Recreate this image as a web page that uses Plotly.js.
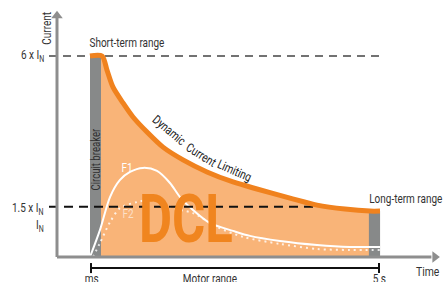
<!DOCTYPE html>
<html><head><meta charset="utf-8">
<script src="https://cdn.plot.ly/plotly-3.0.1.min.js"></script>
<style>html,body{margin:0;padding:0;background:#fff}#chart{width:443px;height:282px}</style>
</head><body><div id="chart"></div>
<script>
// Dynamic Current Limiting envelope (schematic time units, multiples of I_N)
const dclTime = [8.55, 11.66, 12.95, 14.51, 17.10, 19.69, 23.32, 27.46, 32.64, 38.86, 45.60, 51.81, 60.36, 67.36, 74.61, 81.09, 83.68];
const dclCurrent = [6.0, 6.0, 5.58, 5.07, 4.60, 4.18, 3.73, 3.28, 2.90, 2.54, 2.24, 2.03, 1.76, 1.55, 1.43, 1.37, 1.37];
// Example load current F1 (solid)
const f1Time = [8.55, 11.14, 13.73, 16.32, 18.91, 22.28, 25.91, 29.27, 31.87, 35.23, 39.64, 45.60, 50.0, 57.77, 67.36, 75.91, 83.68];
const f1Current = [0, 0.81, 1.79, 2.30, 2.54, 2.66, 2.57, 2.21, 1.79, 1.40, 1.01, 0.78, 0.63, 0.48, 0.36, 0.30, 0.30];
// Example load current F2 (dotted)
const f2Time = [9.33, 11.14, 13.73, 16.32, 20.73, 24.09, 27.46, 30.05, 35.23, 41.45, 48.19, 57.77, 67.36, 75.91, 83.68];
const f2Current = [0, 0.42, 1.04, 1.46, 1.64, 1.70, 1.61, 1.46, 1.31, 0.90, 0.60, 0.39, 0.24, 0.21, 0.21];
// Ranges
const breakerTime = [8.55, 11.4];
const breakerCurrent = 6.0;
const longTermTime = [80.8, 83.7];
const longTermCurrent = 1.37;
// Current levels
const levelValues = [6, 1.5, 1];
const levelLabels = ['6 x I<sub>N</sub>', '1.5 x I<sub>N</sub>', 'I<sub>N</sub>'];
const levelLineStart = -2.07;
const levelLineEnd = [84.2, 68.1];
// Time marks
const timeTicks = [8.81, 83.42];
const timeLabels = ['ms', '5 s'];
const motorLabel = 'Motor range';

const FONT = "Roboto, 'Liberation Sans', sans-serif";
const ORANGE = '#f0821e', FILL = '#f9b478', GRAY = '#878989', AXIS = '#8e8e8e', TXT = '#333';

function rect(x, top, color) {
  return {x: [x[0], x[0], x[1], x[1], x[0]], y: [0, top, top, 0, 0], mode: 'lines', fill: 'toself',
          fillcolor: color, line: {width: 0, color: color}};
}

const traces = [
  {x: dclTime, y: dclCurrent, mode: 'lines', fill: 'tozeroy', fillcolor: FILL,
   line: {width: 0, shape: 'spline', smoothing: 0.8, color: FILL}},
  rect(breakerTime, breakerCurrent, GRAY),
  rect(longTermTime, longTermCurrent, GRAY),
  {x: [levelLineStart, levelLineEnd[0]], y: [levelValues[0], levelValues[0]], mode: 'lines',
   line: {color: '#444', width: 1.3, dash: '8px,6px'}},
  {x: f2Time, y: f2Current, mode: 'lines', line: {color: 'rgba(255,255,255,0.8)', width: 2, dash: '2px,4px', shape: 'spline', smoothing: 0.8}},
  {x: f1Time, y: f1Current, mode: 'lines', line: {color: '#fff', width: 2, shape: 'spline', smoothing: 0.8}},
  {x: [levelLineStart, levelLineEnd[1]], y: [levelValues[1], levelValues[1]], mode: 'lines',
   line: {color: '#111', width: 2, dash: '9px,6px'}},
  {x: dclTime, y: dclCurrent, mode: 'lines', line: {color: ORANGE, width: 5, shape: 'spline', smoothing: 0.8}},
  // axes
  {x: [0, 0], y: [0, 7.15], mode: 'lines', line: {color: AXIS, width: 3}},
  {x: [0, 97], y: [0, 0], mode: 'lines', line: {color: AXIS, width: 3}},
  {x: [0], y: [7.2], mode: 'markers', marker: {symbol: 'triangle-up', size: 10, color: AXIS}},
  {x: [97.9], y: [0], mode: 'markers', marker: {symbol: 'triangle-right', size: 10, color: AXIS}},
  // motor range bracket
  {x: timeTicks, y: [-0.328, -0.328], mode: 'lines', line: {color: '#111', width: 2}},
  {x: [timeTicks[0], timeTicks[0]], y: [-0.18, -0.48], mode: 'lines', line: {color: '#111', width: 2}},
  {x: [timeTicks[1], timeTicks[1]], y: [-0.18, -0.48], mode: 'lines', line: {color: '#111', width: 2}}
];
traces.forEach(t => { t.showlegend = false; t.hoverinfo = 'skip'; });

function ann(text, x, y, opts) {
  return Object.assign({text: text, x: x, y: y, xref: 'x', yref: 'y', showarrow: false,
    font: {family: FONT, size: 12.5, color: TXT}, xanchor: 'center', yanchor: 'middle'}, opts || {});
}
const sub = {family: FONT, size: 12.5, color: '#222'};
const annotations = [
  ann('Current', -2.59, 6.81, {textangle: -90}),
  ann(levelLabels[0], -6.3, 6.03),
  ann(levelLabels[1], -7.6, 1.46),
  ann(levelLabels[2], -4.4, 0.955),
  ann('Short-term range', 18.13, 6.40),
  ann('Long-term range', 90.4, 1.76),
  ann('Circuit breaker', 9.97, 2.90, {textangle: -90, font: {family: FONT, size: 12, color: '#2f2f2f'}}),
  ann('Dynamic', 29.27, 3.78, {textangle: 40, font: sub}),
  ann('Current', 37.31, 3.07, {textangle: 32, font: sub}),
  ann('Limiting', 45.98, 2.57, {textangle: 24, font: sub}),
  ann('F1', 18.13, 2.66, {font: {family: FONT, size: 12.5, color: '#fff'}}),
  ann('F2', 18.39, 1.31, {font: {family: FONT, size: 12.5, color: 'rgba(255,255,255,0.6)'}}),
  ann('<b>DCL</b>', 33.42, 1.13, {font: {family: FONT, size: 66, color: '#f0851f'}}),
  ann(timeLabels[0], timeTicks[0], -0.635),
  ann(motorLabel, 39.64, -0.635),
  ann(timeLabels[1], timeTicks[1], -0.635),
  ann('Time', 96.1, -0.42, {font: {family: FONT, size: 13, color: TXT}})
];
// horizontal condensing factor per annotation (the reference uses a condensed face)
const condense = annotations.map(a => a.text === '<b>DCL</b>' ? 0.77 : 0.8);

const layout = {
  width: 443, height: 282,
  margin: {l: 0, r: 0, t: 0, b: 0},
  paper_bgcolor: '#fff', plot_bgcolor: '#fff',
  xaxis: {range: [-14.767, 100], visible: false, fixedrange: true},
  yaxis: {range: [-0.746, 7.672], visible: false, fixedrange: true},
  annotations: annotations,
  showlegend: false
};

Plotly.newPlot('chart', traces, layout, {staticPlot: true, displayModeBar: false}).then(gd => {
  gd.querySelectorAll('g.annotation').forEach(g => {
    const i = +g.getAttribute('data-index');
    const t = g.querySelector('text.annotation-text');
    if (!t) return;
    t.style.transformBox = 'fill-box';
    t.style.transformOrigin = 'center';
    t.style.transform = 'scaleX(' + condense[i] + ')';
  });
});
</script>
</body></html>
